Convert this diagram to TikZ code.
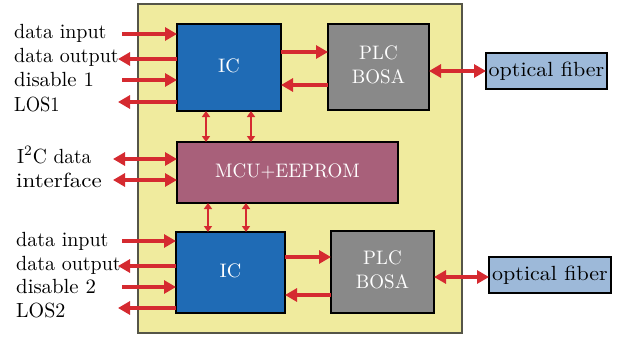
\documentclass[tikz,border=0pt]{standalone}
\usepackage{graphicx}
\usetikzlibrary{arrows.meta}
\definecolor{bgy}{HTML}{F0EB9E}
\definecolor{bgborder}{HTML}{555548}
\definecolor{icblue}{HTML}{1F6BB5}
\definecolor{plcgray}{HTML}{898989}
\definecolor{mcumauve}{HTML}{A8607A}
\definecolor{fiberblue}{HTML}{9DB9D9}
\definecolor{arrred}{HTML}{D52A30}
\newcommand{\lbltxt}[2][2.0]{\scalebox{#1}[2.05]{#2}}
\newcommand{\boxtxt}[2][1.95]{\scalebox{#1}[1.95]{\begin{tabular}{@{}c@{}}#2\end{tabular}}}
\begin{document}
\begin{tikzpicture}[x=1pt,y=-1pt,
  box/.style={draw=black,line width=2pt,inner sep=0pt,outer sep=0pt},
  whitetxt/.style={text=white},
  lbl/.style={anchor=base west,inner sep=0pt},
  arr/.style={draw=arrred,line width=4.5pt,-{Triangle[length=12pt,width=13pt]}},
  darr/.style={draw=arrred,line width=4.5pt,{Triangle[length=12pt,width=13pt]}-{Triangle[length=12pt,width=13pt]}},
  sarr/.style={draw=arrred,line width=2.2pt,{Triangle[length=6pt,width=8pt]}-{Triangle[length=6pt,width=8pt]}}]
\useasboundingbox[fill=white] (0,0) rectangle (618,337);
% outer yellow module
\node[draw=bgborder,line width=2pt,fill=bgy,minimum width=324pt,minimum height=329pt,inner sep=0pt] (module) at (300,168.5) {};
% blocks
\node[box,fill=icblue,minimum width=104pt,minimum height=87pt,whitetxt] (ic1) at (229,67.5) {\boxtxt[2.0]{IC}};
\node[box,fill=plcgray,minimum width=101pt,minimum height=86pt,whitetxt] (plc1) at (378.5,67) {\boxtxt[1.9]{PLC\\BOSA}};
\node[box,fill=mcumauve,minimum width=221pt,minimum height=61pt,whitetxt] (mcu) at (287.5,172.5) {\boxtxt[1.9]{MCU+EEPROM}};
\node[box,fill=icblue,minimum width=109pt,minimum height=81pt,whitetxt] (ic2) at (230.5,272.5) {\boxtxt[2.0]{IC}};
\node[box,fill=plcgray,minimum width=103pt,minimum height=82pt,whitetxt] (plc2) at (382.5,272) {\boxtxt[1.9]{PLC\\BOSA}};
\node[box,fill=fiberblue,minimum width=121pt,minimum height=36pt] (fib1) at (546.5,71) {\lbltxt[2.2]{optical fiber}};
\node[box,fill=fiberblue,minimum width=122pt,minimum height=36pt] (fib2) at (550,275) {\lbltxt[2.2]{optical fiber}};
% left labels
\node[lbl] (din1) at (14,39) {\lbltxt{data input}};
\node[lbl] (dout1) at (14,63) {\lbltxt{data output}};
\node[lbl] (dis1) at (14,86) {\lbltxt[2.08]{disable 1}};
\node[lbl] (los1) at (14,111) {\lbltxt[1.85]{LOS1}};
\node[lbl] (i2c) at (17,163) {\lbltxt[1.95]{I\textsuperscript{2}C data}};
\node[lbl] (intf) at (16,187) {\lbltxt[2.3]{interface}};
\node[lbl] (din2) at (16,246) {\lbltxt{data input}};
\node[lbl] (dout2) at (16,270) {\lbltxt{data output}};
\node[lbl] (dis2) at (16,293) {\lbltxt[2.08]{disable 2}};
\node[lbl] (los2) at (16,317) {\lbltxt[2.0]{LOS2}};
% free ends of the left connectors
\coordinate (a1) at (122,34);
\coordinate (a2) at (118,59);
\coordinate (a3) at (122,80);
\coordinate (a4) at (118,102);
\coordinate (a5) at (113,159);
\coordinate (a6) at (113,180);
\coordinate (a7) at (122,241);
\coordinate (a8) at (118,266);
\coordinate (a9) at (122,287);
\coordinate (a10) at (118,308);
% left connectors
\draw[arr] (a1) -- (ic1.west |- a1);
\draw[arr] (ic1.west |- a2) -- (a2);
\draw[arr] (a3) -- (ic1.west |- a3);
\draw[arr] (ic1.west |- a4) -- (a4);
\draw[darr] (a5) -- (mcu.west |- a5);
\draw[darr] (a6) -- (mcu.west |- a6);
\draw[arr] (a7) -- (ic2.west |- a7);
\draw[arr] (ic2.west |- a8) -- (a8);
\draw[arr] (a9) -- (ic2.west |- a9);
\draw[arr] (ic2.west |- a10) -- (a10);
% IC <-> PLC
\draw[arr] (ic1.east |- 0,52) -- (plc1.west |- 0,52);
\draw[arr] (plc1.west |- 0,85) -- (ic1.east |- 0,85);
\draw[arr] (ic2.east |- 0,257) -- (plc2.west |- 0,257);
\draw[arr] (plc2.west |- 0,295) -- (ic2.east |- 0,295);
% PLC <-> fiber
\draw[darr] (plc1.east |- fib1) -- (fib1.west);
\draw[darr] (plc2.east |- 0,277) -- (fib2.west |- 0,277);
% IC <-> MCU
\draw[sarr] (ic1.south -| 206,0) -- (mcu.north -| 206,0);
\draw[sarr] (ic1.south -| 251,0) -- (mcu.north -| 251,0);
\draw[sarr] (mcu.south -| 208,0) -- (ic2.north -| 208,0);
\draw[sarr] (mcu.south -| 246,0) -- (ic2.north -| 246,0);
\end{tikzpicture}
\end{document}
